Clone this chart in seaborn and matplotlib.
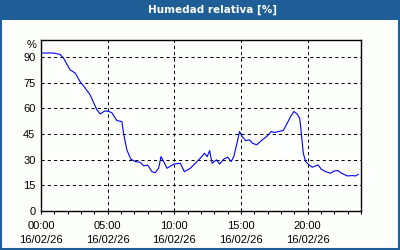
import matplotlib
matplotlib.use("Agg")
import matplotlib.pyplot as plt
import matplotlib.patches as mpatches
from matplotlib.ticker import MultipleLocator, FixedLocator
import seaborn as sns
import pandas as pd

hours = [0, 0.9, 1.43, 1.68, 2.18, 2.56, 2.93, 3.3, 3.68, 4.19, 4.44, 4.8, 5.06, 5.3,
         5.69, 6.07, 6.19, 6.44, 6.74, 7.07, 7.44, 7.7, 8.0, 8.32, 8.57, 8.82, 9.0,
         9.2, 9.45, 9.75, 10.0, 10.45, 10.75, 11.2, 11.58, 11.95, 12.26, 12.46, 12.65,
         12.83, 13.16, 13.4, 13.7, 14.0, 14.26, 14.46, 14.7, 14.89, 15.09, 15.34,
         15.66, 15.84, 16.17, 16.6, 16.97, 17.27, 17.5, 17.85, 18.17, 18.47, 18.72,
         18.97, 19.2, 19.4, 19.5, 19.67, 19.85, 20.1, 20.35, 20.6, 20.77, 21.03,
         21.35, 21.73, 21.98, 22.28, 22.53, 22.98, 23.36, 23.6, 23.8]
humidity = [92.4, 92.4, 91.6, 89.5, 82.6, 80.7, 75.7, 72.0, 68.0, 59.2, 56.8, 58.6,
            58.2, 57.6, 52.9, 52.3, 45.5, 35.7, 30.3, 28.9, 28.5, 26.4, 26.9, 23.0,
            22.4, 25.0, 31.8, 28.9, 25.0, 26.4, 27.5, 27.9, 23.0, 25.0, 27.9, 30.9,
            33.8, 31.8, 35.3, 27.9, 29.9, 27.5, 30.3, 31.5, 28.9, 31.8, 39.7, 46.5,
            43.5, 41.2, 41.6, 39.7, 38.7, 41.6, 43.9, 46.5, 45.9, 46.5, 47.1, 51.4,
            55.3, 58.2, 56.8, 54.3, 47.5, 33.8, 28.9, 27.0, 25.6, 26.4, 27.0, 24.4,
            23.0, 22.1, 23.4, 23.6, 22.1, 20.5, 20.7, 20.5, 21.5]
x_ticks = [0, 5, 10, 15, 20]
x_labels = ["00:00\n16/02/26", "05:00\n16/02/26", "10:00\n16/02/26",
            "15:00\n16/02/26", "20:00\n16/02/26"]
y_ticks = [0, 15, 30, 45, 60, 75, 90]
title = "Humedad relativa [%]"

sns.set_theme(style="white")
plt.rcParams['font.family'] = ['Liberation Sans', 'DejaVu Sans']

bg = "#FDFFFD"
band = "#1F5E96"
fig = plt.figure(figsize=(4, 2.5), dpi=100, facecolor=bg)
ax = fig.add_axes([41/400, 39/250, 320/400, 171/250], facecolor=bg)

df = pd.DataFrame({"h": hours, "rh": humidity})
sns.lineplot(data=df, x="h", y="rh", ax=ax, color="#0000FF", linewidth=0.8)

ax.set_xlim(0, 24)
ax.set_ylim(0, 100)
ax.xaxis.set_major_locator(FixedLocator(x_ticks))
ax.set_xticklabels(x_labels, linespacing=1.45)
ax.xaxis.set_minor_locator(MultipleLocator(1))
ax.set_yticks(y_ticks)
ax.set_yticklabels([str(v) for v in y_ticks])
ax.set_xlabel("")
ax.set_ylabel("")
ax.tick_params(axis="x", which="both", direction="out", length=2.2, width=0.8,
               color="black", labelsize=8, pad=5, bottom=True)
ax.tick_params(axis="y", length=0, labelsize=8, pad=4)
for lab in ax.get_xticklabels() + ax.get_yticklabels():
    lab.set_color("black")
ax.grid(True, which="major", color="black", linestyle=(0, (3, 3)), linewidth=0.75)
for s in ax.spines.values():
    s.set_visible(True)
    s.set_color("black")
    s.set_linewidth(1.0)

ax.text(-0.015, 1.0, "%", transform=ax.transAxes, ha="right", va="top",
        fontsize=8, color="black")

fig.patches.append(mpatches.Rectangle((0, 230/250), 1, 20/250, transform=fig.transFigure,
                                      facecolor=band, edgecolor="none", zorder=0))
fig.patches.append(mpatches.Rectangle((0.003, 0.004), 0.994, 0.99, transform=fig.transFigure,
                                      facecolor="none", edgecolor=band, linewidth=1.5, zorder=1))
fig.text(213/400, 240/250, title, ha="center", va="center", color="white",
         fontsize=7.5, fontweight="bold", family=["DejaVu Sans"])

fig.savefig("out.png", dpi=100, facecolor=bg)
